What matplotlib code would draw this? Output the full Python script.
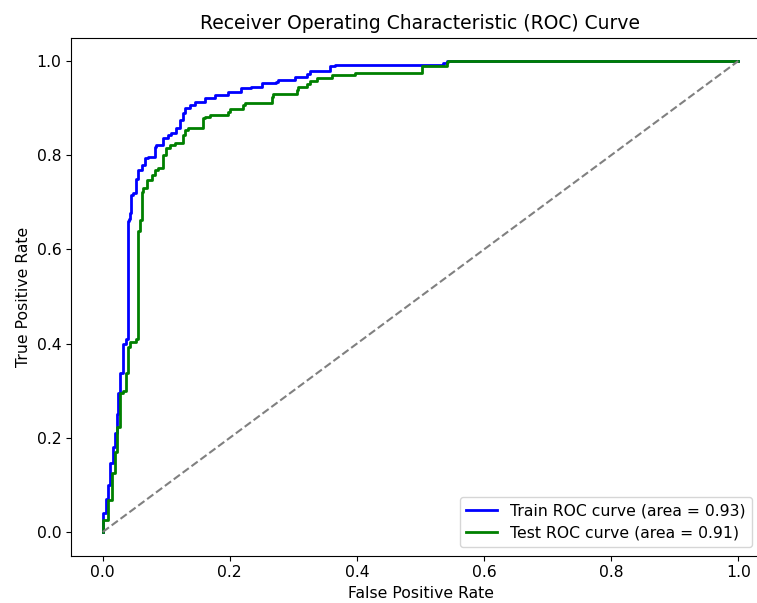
import matplotlib
matplotlib.use("Agg")
import matplotlib.pyplot as plt

# Train ROC curve
fpr_train = [0.0, 0.0, 0.005, 0.008, 0.012, 0.016, 0.019, 0.022, 0.024, 0.027, 0.032, 0.036, 0.040,
             0.041, 0.043, 0.045, 0.048, 0.053, 0.056, 0.061, 0.066, 0.071, 0.082, 0.084, 0.095,
             0.103, 0.108, 0.116, 0.121, 0.127, 0.129, 0.137, 0.145, 0.161, 0.176, 0.197, 0.218,
             0.234, 0.250, 0.273, 0.276, 0.302, 0.321, 0.326, 0.357, 0.365, 0.394, 0.536, 0.541,
             0.562, 1.0]
tpr_train = [0.0, 0.04, 0.04, 0.07, 0.10, 0.146, 0.18, 0.21, 0.25, 0.295, 0.338, 0.40, 0.41,
             0.66, 0.665, 0.677, 0.715, 0.72, 0.75, 0.768, 0.779, 0.794, 0.796, 0.817, 0.822,
             0.836, 0.843, 0.847, 0.858, 0.875, 0.89, 0.90, 0.906, 0.913, 0.921, 0.928, 0.934,
             0.943, 0.945, 0.953, 0.955, 0.96, 0.967, 0.972, 0.979, 0.99, 0.991, 0.991, 0.996,
             1.0, 1.0]

# Test ROC curve
fpr_test = [0.0, 0.0, 0.008, 0.014, 0.019, 0.022, 0.027, 0.032, 0.037, 0.040, 0.043, 0.053,
            0.056, 0.056, 0.058, 0.061, 0.063, 0.069, 0.077, 0.082, 0.087, 0.095, 0.100, 0.106,
            0.113, 0.126, 0.129, 0.134, 0.158, 0.161, 0.168, 0.197, 0.200, 0.221, 0.224, 0.266,
            0.268, 0.305, 0.307, 0.321, 0.326, 0.337, 0.360, 0.397, 0.397, 0.502, 0.502, 0.541,
            0.543, 0.562, 1.0]
tpr_test = [0.0, 0.02, 0.025, 0.068, 0.125, 0.17, 0.223, 0.295, 0.30, 0.338, 0.393, 0.403,
            0.41, 0.62, 0.64, 0.662, 0.722, 0.73, 0.747, 0.758, 0.768, 0.773, 0.80, 0.815,
            0.822, 0.826, 0.843, 0.853, 0.858, 0.878, 0.882, 0.885, 0.892, 0.899, 0.906, 0.91,
            0.924, 0.931, 0.938, 0.945, 0.952, 0.958, 0.963, 0.97, 0.974, 0.974, 0.99, 0.99,
            0.997, 1.0, 1.0]

auc_train = 0.93
auc_test = 0.91
diag = [0, 1]

s = 1.125
plt.rcParams['font.size'] = 10 * s

fig = plt.figure(figsize=(7.57, 6.03), dpi=100)
ax = fig.add_axes([71 / 757, 47.5 / 603, 699 / 757, 518 / 603])

ax.plot(fpr_train, tpr_train, color='blue', lw=2, drawstyle='steps-pre',
        label=f'Train ROC curve (area = {auc_train:.2f})')
ax.plot(fpr_test, tpr_test, color='green', lw=2, drawstyle='steps-pre',
        label=f'Test ROC curve (area = {auc_test:.2f})')
ax.plot(diag, diag, color='gray', lw=1.5, linestyle='--')

ax.set_xlabel('False Positive Rate')
ax.set_ylabel('True Positive Rate')
ax.set_title('Receiver Operating Characteristic (ROC) Curve', fontsize=12 * s)
ax.legend(loc='lower right', bbox_to_anchor=(0.974, 0.016), borderaxespad=0)

fig.savefig('out.png', dpi=100)
